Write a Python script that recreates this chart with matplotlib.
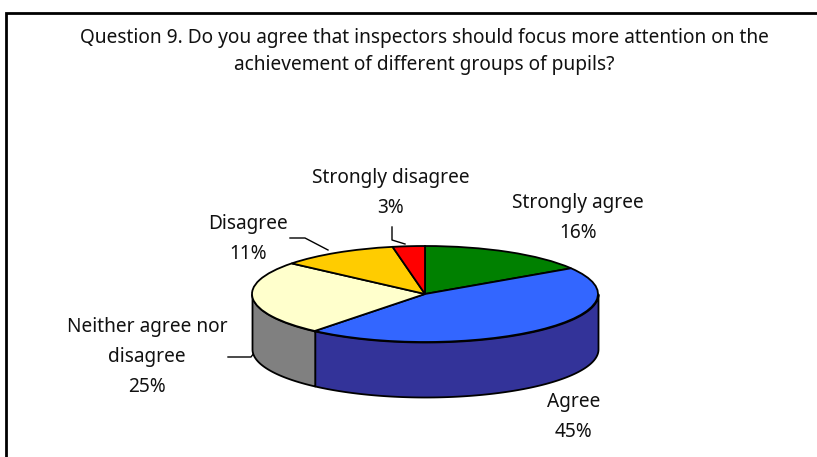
import numpy as np
import matplotlib
matplotlib.use("Agg")
import matplotlib.pyplot as plt

W, H = 817, 457

title_lines = ["Question 9. Do you agree that inspectors should focus more attention on the",
               "achievement of different groups of pupils?"]
categories = ["Strongly agree", "Agree", "Neither agree nor\ndisagree", "Disagree", "Strongly disagree"]
values = [16, 45, 25, 11, 3]
top_colors = ["#008000", "#3366ff", "#ffffcc", "#ffcc00", "#ff0000"]
side_colors = ["#004000", "#333399", "#808080", "#806600", "#800000"]

plt.rcParams["font.family"] = ["Noto Sans", "DejaVu Sans"]
fig = plt.figure(figsize=(W / 100, H / 100), dpi=100, facecolor="white")

# ganze Seite in Pixeln, fuer Rahmen und Texte
page = fig.add_axes([0, 0, 1, 1])
page.set_xlim(0, W)
page.set_ylim(H, 0)
page.axis("off")
page.plot([6, 6, W], [H, 13, 13], color="black", lw=2, solid_joinstyle="miter")

fs = 13.75
page.text(424, 38, title_lines[0], ha="center", va="center", fontsize=fs, color="#111111")
page.text(424, 65, title_lines[1], ha="center", va="center", fontsize=fs, color="#111111")

# Torte: Kreis im eigenen Achsenfeld, durch das Feld zur Ellipse gestaucht
cx, cy, rx, ry, depth = 425, 294, 173, 48, 55
ax = fig.add_axes([(cx - rx) / W, 1 - (cy + ry) / H, 2 * rx / W, 2 * ry / H])
ax.patch.set_visible(False)

# Seitenwand zuerst, Winkel im Uhrzeigersinn von oben
edges = np.cumsum([0] + values) / sum(values) * 2 * np.pi
d = depth / ry
for start, stop, col in zip(edges[:-1], edges[1:], side_colors):
    a0, a1 = max(start, np.pi / 2), min(stop, 3 * np.pi / 2)
    if a1 <= a0:
        continue
    t = np.linspace(a0, a1, 120)
    ax.fill_between(np.sin(t), np.cos(t), np.cos(t) - d, color=col, ec="black", lw=1.3, clip_on=False, zorder=1)

ax.pie(values, colors=top_colors, startangle=90, counterclock=False, radius=1,
       wedgeprops=dict(edgecolor="black", linewidth=1.3, zorder=2, clip_on=False))
ax.set_aspect("auto")
ax.set_xlim(-1, 1)
ax.set_ylim(-1, 1)
ax.axis("off")

# Beschriftungen
label_pos = [(578, 218), (574, 417), (147, 357), (248, 239), (391, 193)]
for name, val, (x, y) in zip(categories, values, label_pos):
    page.text(x, y, f"{name}\n{val}%", ha="center", va="center", fontsize=fs, color="#111111", linespacing=1.68)

leaders = [[(228, 357), (251, 357), (254, 353)],
           [(290, 238), (305, 238), (328, 250)],
           [(392, 227), (392, 240), (405, 244)]]
for line in leaders:
    xs, ys = zip(*line)
    page.plot(xs, ys, color="black", lw=1)

fig.savefig("out.png", dpi=100)
